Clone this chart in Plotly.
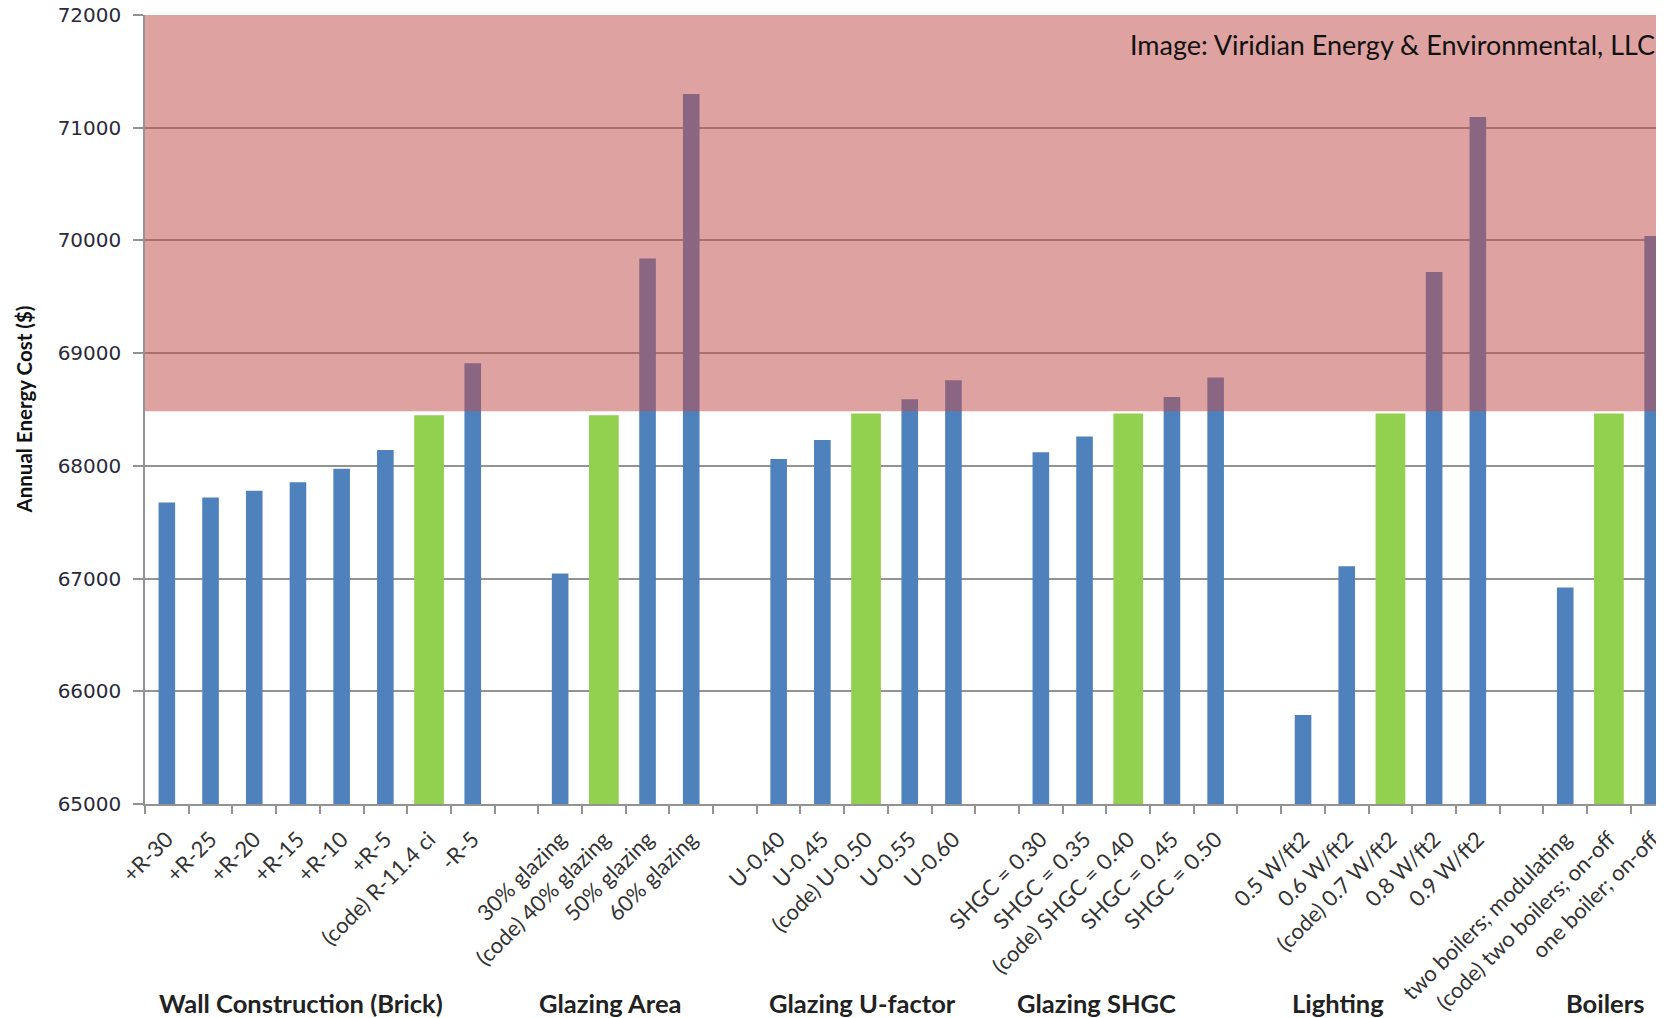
import plotly.graph_objects as go

# ---------------- data ----------------
group_names = ["Wall Construction (Brick)", "Glazing Area", "Glazing U-factor",
               "Glazing SHGC", "Lighting", "Boilers"]

wall_labels = ["+R-30", "+R-25", "+R-20", "+R-15", "+R-10", "+R-5", "(code) R-11.4 ci", "-R-5"]
wall_values = [67675, 67720, 67780, 67855, 67975, 68140, 68450, 68910]

area_labels = ["30% glazing", "(code) 40% glazing", "50% glazing", "60% glazing"]
area_values = [67045, 68450, 69840, 71300]

ufac_labels = ["U-0.40", "U-0.45", "(code) U-0.50", "U-0.55", "U-0.60"]
ufac_values = [68060, 68230, 68465, 68590, 68760]

shgc_labels = ["SHGC = 0.30", "SHGC = 0.35", "(code) SHGC = 0.40", "SHGC = 0.45", "SHGC = 0.50"]
shgc_values = [68120, 68260, 68465, 68610, 68785]

light_labels = ["0.5 W/ft2", "0.6 W/ft2", "(code) 0.7 W/ft2", "0.8 W/ft2", "0.9 W/ft2"]
light_values = [65790, 67110, 68465, 69720, 71095]

boil_labels = ["two boilers; modulating", "(code) two boilers; on-off", "one boiler; on-off"]
boil_values = [66920, 68465, 70040]

threshold = 68485          # lower edge of the shaded "above code" band
y_ticks = [65000, 66000, 67000, 68000, 69000, 70000, 71000, 72000]

groups = [
    (wall_labels, wall_values),
    (area_labels, area_values),
    (ufac_labels, ufac_values),
    (shgc_labels, shgc_values),
    (light_labels, light_values),
    (boil_labels, boil_values),
]

# ---------------- build category order (blank slot between groups) ----------------
categories = []
blue_x, blue_y, green_x, green_y = [], [], [], []
for gi, (labs, vals) in enumerate(groups):
    for lab, val in zip(labs, vals):
        categories.append(lab)
        if lab.startswith("(code)"):
            green_x.append(lab); green_y.append(val)
        else:
            blue_x.append(lab); blue_y.append(val)
    if gi < len(groups) - 1:
        categories.append(" " * (gi + 1))

BLUE = "#4F81BD"
GREEN = "#92D050"
GRID = "#939393"

fig = go.Figure()
fig.add_trace(go.Bar(x=blue_x, y=blue_y, width=0.38, marker=dict(color=BLUE, line=dict(width=0)),
                     showlegend=False, hoverinfo="x+y"))
fig.add_trace(go.Bar(x=green_x, y=green_y, width=0.68, marker=dict(color=GREEN, line=dict(width=0)),
                     showlegend=False, hoverinfo="x+y"))

fig.update_layout(
    width=1656, height=1010,
    margin=dict(l=137, r=0, t=7, b=214),
    paper_bgcolor="white", plot_bgcolor="white",
    barmode="overlay",
    xaxis=dict(
        type="category", categoryorder="array", categoryarray=categories,
        range=[-0.5, 34.26], tickson="boundaries", automargin=False,
        ticks="outside", ticklen=8, tickcolor=GRID, tickwidth=1.5,
        showline=True, linecolor=GRID, linewidth=1.5,
        showgrid=False, tickangle=-45,
        tickfont=dict(family="Lato", size=22, color="#333333"),
        ticklabelstandoff=12,
    ),
    yaxis=dict(
        range=[65000, 72000], tickvals=y_ticks, ticktext=[str(v) for v in y_ticks],
        automargin=False,
        ticks="outside", ticklen=10, tickcolor=GRID, tickwidth=1.5,
        showline=True, linecolor=GRID, linewidth=1.5,
        showgrid=True, gridcolor=GRID, gridwidth=1.5,
        tickfont=dict(family="DejaVu Sans", size=20, color="#2a2a3a"),
        ticklabelstandoff=8, ticklabeloverflow="allow",
    ),
)

# shaded band above code
fig.add_shape(type="rect", xref="paper", yref="y", x0=0, x1=1, y0=threshold, y1=72000,
              fillcolor="rgba(192,80,77,0.53)", line=dict(width=0), layer="above")

# credit
fig.add_annotation(text="Image: Viridian Energy & Environmental, LLC", xref="paper", yref="paper",
                   x=0.9954, y=0.9625, xanchor="right", yanchor="middle", showarrow=False,
                   font=dict(family="Lato", size=27, color="#111111"))

# y-axis title
fig.add_annotation(text="<b>Annual Energy Cost ($)</b>", xref="paper", yref="paper",
                   x=-0.0803, y=0.5, xanchor="center", yanchor="middle", textangle=-90,
                   showarrow=False, font=dict(family="Lato", size=20.5, color="#111111"))

# group labels
group_label_x = [3.07, 10.16, 15.93, 21.28, 26.8, 32.9]
for name, gx in zip(group_names, group_label_x):
    fig.add_annotation(text="<b>" + name + "</b>", xref="x", yref="paper", x=gx, y=-0.252,
                       xanchor="center", yanchor="middle", showarrow=False,
                       font=dict(family="Lato", size=25.5, color="#222222"))

fig.write_html("out.html")
